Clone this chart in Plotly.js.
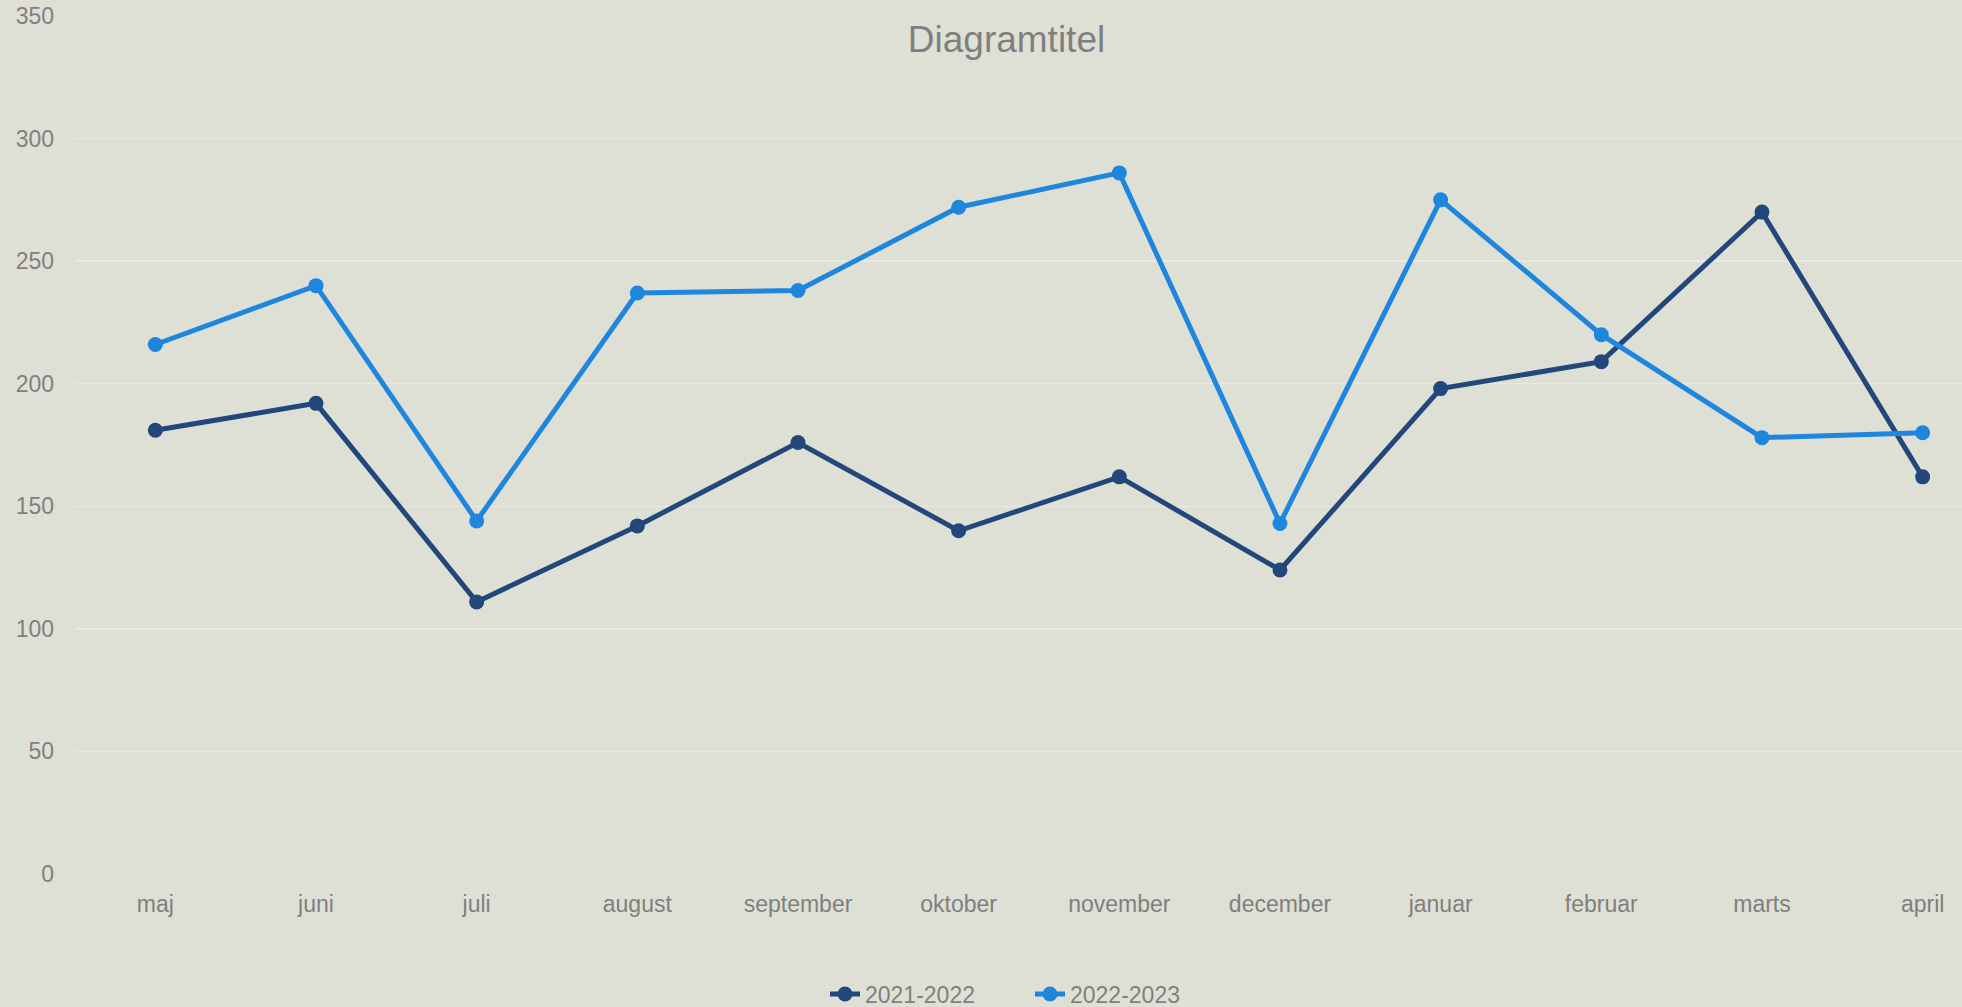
<!DOCTYPE html>
<html>
<head>
<meta charset="utf-8">
<script src="https://cdn.plot.ly/plotly-3.0.1.min.js"></script>
<style>
  html, body { margin: 0; padding: 0; background: #DFE0D5; }
  #chart { width: 1962px; height: 1007px; }
</style>
</head>
<body>
<div id="chart"></div>
<script>
const months = ["maj", "juni", "juli", "august", "september", "oktober", "november", "december", "januar", "februar", "marts", "april"];
const series2021 = [181, 192, 111, 142, 176, 140, 162, 124, 198, 209, 270, 162];
const series2022 = [216, 240, 144, 237, 238, 272, 286, 143, 275, 220, 178, 180];
const seriesNames = ["2021-2022", "2022-2023"];
const chartTitle = "Diagramtitel";

const fontFamily = "'Liberation Sans', Arial, sans-serif";
const textColor = "#7F7F7F";

const traces = [
  {
    x: months, y: series2021, name: seriesNames[0], type: "scatter", mode: "lines+markers",
    line: { color: "#22477A", width: 5 },
    marker: { color: "#22477A", size: 15 }
  },
  {
    x: months, y: series2022, name: seriesNames[1], type: "scatter", mode: "lines+markers",
    line: { color: "#1F86DE", width: 5 },
    marker: { color: "#1F86DE", size: 15 }
  }
];

const layout = {
  width: 1962, height: 1007,
  paper_bgcolor: "#DFE0D5", plot_bgcolor: "#DFE0D5",
  margin: { l: 75, r: 0, t: 16, b: 133, pad: 0 },
  font: { family: fontFamily, color: textColor, size: 23 },
  title: {
    text: chartTitle,
    font: { family: fontFamily, color: textColor, size: 37 },
    x: 0.513, xanchor: "center", xref: "container",
    y: 1 - 39 / 1007, yanchor: "middle", yref: "container"
  },
  xaxis: {
    type: "category",
    range: [-0.5, 11.245],
    showgrid: false, zeroline: false, showline: false,
    ticks: "", ticklabelstandoff: 14,
    tickfont: { family: fontFamily, color: textColor, size: 23 }
  },
  yaxis: {
    range: [0, 350], dtick: 50, tick0: 0,
    showgrid: true, gridcolor: "#E8E9E3", gridwidth: 1.5,
    zeroline: false, showline: false,
    ticks: "", ticklabelstandoff: 20,
    tickfont: { family: fontFamily, color: textColor, size: 23 }
  },
  showlegend: true,
  legend: {
    orientation: "h",
    x: 1030 / 1962, xref: "container", xanchor: "center",
    y: 1 - 994 / 1007, yref: "container", yanchor: "middle",
    entrywidth: 160, entrywidthmode: "pixels",
    font: { family: fontFamily, color: textColor, size: 23 },
    bgcolor: "rgba(0,0,0,0)",
    itemclick: false
  },
  hovermode: false
};

Plotly.newPlot("chart", traces, layout, { displayModeBar: false, staticPlot: true });
</script>
</body>
</html>
